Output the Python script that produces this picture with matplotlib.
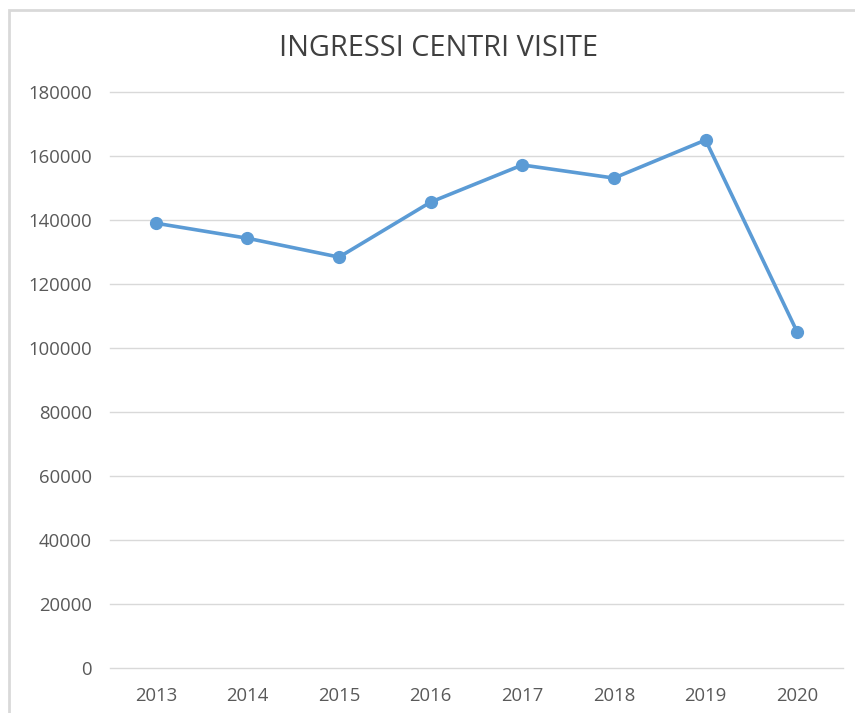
import matplotlib
matplotlib.use("Agg")
import matplotlib.pyplot as plt
from matplotlib.patches import Rectangle

years = ["2013", "2014", "2015", "2016", "2017", "2018", "2019", "2020"]
visits = [139000, 134300, 128400, 145600, 157200, 153100, 165000, 105000]
yticks = [0, 20000, 40000, 60000, 80000, 100000, 120000, 140000, 160000, 180000]
title = "INGRESSI CENTRI VISITE"

plt.rcParams['font.family'] = ['Open Sans', 'DejaVu Sans']

fig = plt.figure(figsize=(8.55, 7.13), dpi=100)
fig.patches.append(Rectangle((9/855, -0.01), 1.0, 1 - 10/713 + 0.01, transform=fig.transFigure,
                             fill=False, edgecolor='#d9d9d9', linewidth=2.0))
ax = fig.add_axes([110/855, 1 - 668/713, (843 - 110)/855, (668 - 92)/713])

x = list(range(len(years)))
ax.plot(x, visits, color='#5B9BD5', linewidth=2.6, marker='o', markersize=8.5,
        solid_capstyle='round', zorder=3, clip_on=False)

ax.set_xlim(-0.5, len(years) - 0.5)
ax.set_ylim(0, 180000)
ax.set_yticks(yticks)
ax.set_yticklabels([str(v) for v in yticks])
ax.set_xticks(x)
ax.set_xticklabels(years)
ax.grid(axis='y', color='#d9d9d9', linewidth=1.0)
for gl in ax.yaxis.get_gridlines():
    gl.set_clip_on(False)
ax.set_axisbelow(True)
for s in ax.spines.values():
    s.set_visible(False)
ax.tick_params(axis='both', length=0, labelsize=13.3, labelcolor='#595959')
ax.tick_params(axis='y', pad=13)
ax.tick_params(axis='x', pad=14)

fig.text(438/855, 1 - 48/713, title, ha='center', va='center', fontsize=20.8, color='#404040')

fig.savefig("out.png", dpi=100)
